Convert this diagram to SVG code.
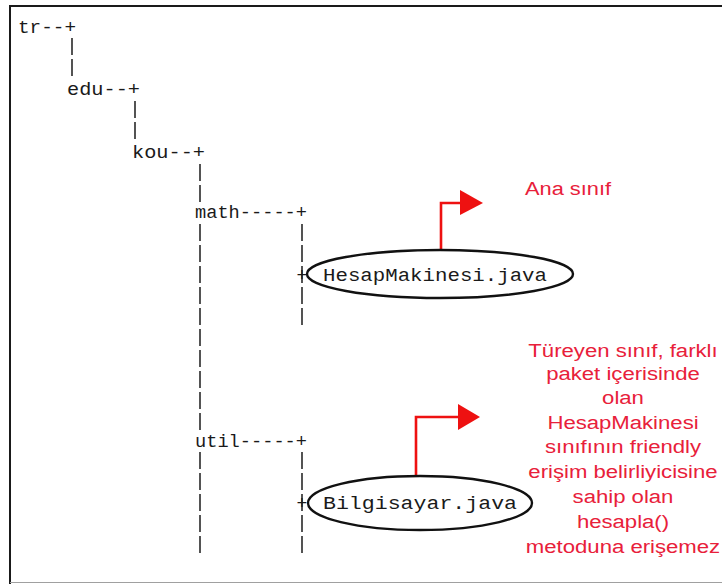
<svg xmlns="http://www.w3.org/2000/svg" width="722" height="584" viewBox="0 0 722 584">
  <defs>
    <style>
      .mono { font-family: "Liberation Mono", "DejaVu Sans Mono", monospace; font-size: 18px; fill: #1a1a1a; }
      .tree { fill: none; stroke: #2a2a2a; stroke-width: 1.6; stroke-dasharray: 17 4; }
      .pkg { fill: #ffffff; stroke: #111111; stroke-width: 2.4; }
      .pointer { fill: none; stroke: #ee1111; stroke-width: 2.6; }
      .head { fill: #ee1111; stroke: none; }
      .note { font-family: "Liberation Sans", Arial, sans-serif; font-size: 18px; fill: #e8203a; }
    </style>
  </defs>

  <!-- page frame -->
  <rect x="0" y="0" width="722" height="584" fill="#ffffff"/>
  <line x1="10" y1="6" x2="722" y2="6" stroke="#1a1a1a" stroke-width="2"/>
  <line x1="10" y1="5" x2="10" y2="584" stroke="#1a1a1a" stroke-width="2"/>
  <line x1="10" y1="582.5" x2="722" y2="582.5" stroke="#a0a0a0" stroke-width="1"/>

  <!-- package tree branches -->
  <g id="connectors">
    <line class="tree" x1="72" y1="38" x2="72" y2="79"/>
    <line class="tree" x1="135" y1="101" x2="135" y2="142"/>
    <line class="tree" x1="200" y1="164" x2="200" y2="206"/>
    <line class="tree" x1="200" y1="224" x2="200" y2="434"/>
    <line class="tree" x1="200" y1="452" x2="200" y2="553"/>
    <line class="tree" x1="302" y1="224" x2="302" y2="326"/>
    <line class="tree" x1="302" y1="452" x2="302" y2="553"/>

    <!-- pointer arrows from the class files -->
    <polyline class="pointer" points="441,250 441,203 462,203"/>
    <polygon class="head" points="460,190 483,203 460,215"/>
    <polyline class="pointer" points="416,476 416,417 460,417"/>
    <polygon class="head" points="458,404 480,417 458,430"/>
  </g>

  <g id="node-tr">
    <text class="mono" x="18" y="33" textLength="58" lengthAdjust="spacingAndGlyphs">tr--+</text>
  </g>
  <g id="node-edu">
    <text class="mono" x="67" y="95" textLength="73" lengthAdjust="spacingAndGlyphs">edu--+</text>
  </g>
  <g id="node-kou">
    <text class="mono" x="132" y="158" textLength="73" lengthAdjust="spacingAndGlyphs">kou--+</text>
  </g>
  <g id="node-math">
    <text class="mono" x="195" y="218" textLength="112" lengthAdjust="spacingAndGlyphs">math-----+</text>
  </g>
  <g id="node-util">
    <text class="mono" x="195" y="447" textLength="112" lengthAdjust="spacingAndGlyphs">util-----+</text>
  </g>

  <g id="node-hesapmakinesi">
    <ellipse class="pkg" cx="440" cy="274" rx="133" ry="24"/>
    <text class="mono" x="302" y="281" text-anchor="middle">+</text>
    <text class="mono" x="323" y="281" textLength="224" lengthAdjust="spacingAndGlyphs">HesapMakinesi.java</text>
  </g>

  <g id="node-bilgisayar">
    <ellipse class="pkg" cx="420" cy="503" rx="112" ry="27"/>
    <text class="mono" x="302" y="509" text-anchor="middle">+</text>
    <text class="mono" x="323" y="509" textLength="194" lengthAdjust="spacingAndGlyphs">Bilgisayar.java</text>
  </g>

  <g id="note-base">
    <text class="note" x="525" y="195" textLength="86" lengthAdjust="spacingAndGlyphs">Ana sınıf</text>
  </g>

  <g id="note-derived" transform="translate(623 0) scale(1.23 1)">
    <text class="note" x="0" y="357" text-anchor="middle">Türeyen sınıf, farklı</text>
    <text class="note" x="0" y="380" text-anchor="middle">paket içerisinde</text>
    <text class="note" x="0" y="404" text-anchor="middle">olan</text>
    <text class="note" x="0" y="429" text-anchor="middle">HesapMakinesi</text>
    <text class="note" x="0" y="453" text-anchor="middle">sınıfının friendly</text>
    <text class="note" x="0" y="478" text-anchor="middle">erişim belirliyicisine</text>
    <text class="note" x="0" y="503" text-anchor="middle">sahip olan</text>
    <text class="note" x="0" y="528" text-anchor="middle">hesapla()</text>
    <text class="note" x="0" y="553" text-anchor="middle">metoduna erişemez</text>
  </g>
</svg>
